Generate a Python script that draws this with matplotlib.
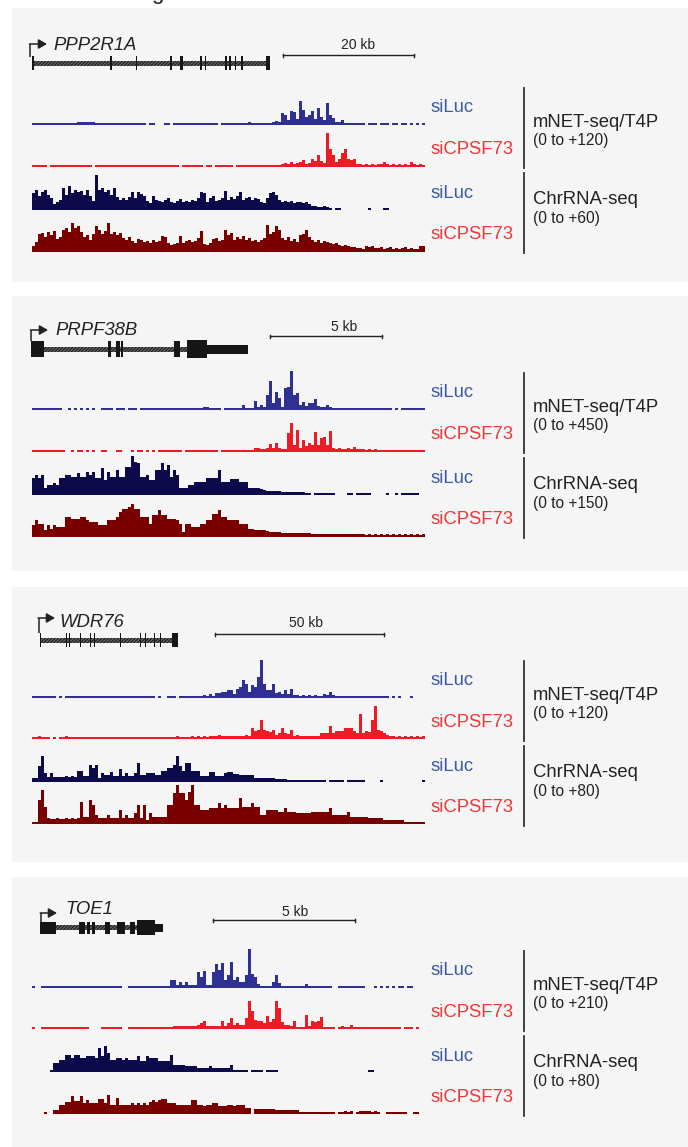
import matplotlib
matplotlib.use("Agg")
import matplotlib.pyplot as plt
from matplotlib.patches import Rectangle
import numpy as np

plt.rcParams["font.family"] = ["Liberation Sans", "DejaVu Sans"]
plt.rcParams["hatch.linewidth"] = 0.9

W, H = 688, 1147

# one character per 3-px genomic bin, value = signal height in px (base 62)
DIGITS = "0123456789abcdefghijklmnopqrstuvwxyzABCDEFGHIJKLMNOPQRSTUVWXYZ"
X0, BIN = 32, 3

GENES = ["PPP2R1A", "PRPF38B", "WDR76", "TOE1"]
SCALE_LABELS = ["20 kb", "5 kb", "50 kb", "5 kb"]
NET_RANGES = ["(0 to +120)", "(0 to +450)", "(0 to +120)", "(0 to +210)"]
CHR_RANGES = ["(0 to +60)", "(0 to +150)", "(0 to +80)", "(0 to +80)"]

P1_NET_SILUC = ("222222222222222" "333333" "22222222222222222" "0" "22" "000" "22" "0"
                "222222222222222" "0" "222222222" "3" "2222222" "343"
                "ca5ed6of8ae6h85ma73352" "222222" "0" "222" "0" "222" "0" "22" "0" "22" "0" "20202")
P1_NET_SICPSF73 = ("22222" "0" "22222222222222" "0" "2222222222" "2222222222" "22222222" "0"
                   "2222222" "0" "22" "0" "222222" "0" "2222222222" "22222" "343534"
                   "573486c64yic58ei8783" "3232323" "3" "5" "3232323" "2" "5" "3232")
P1_CHR_SILUC = ("hkeikfc68a" "mfohkijfke" "9zkmikfmda" "cadicige97" "ea98ac879b" "898a9cih8c"
                "e9acjadbei" "acdacb87ch" "ifa8989788" "7864433432" "0220000000" "0020000220"
                "00000000000")
P1_CHR_SICPSF73 = ("6aijfkhldf" "moktoqkfhc" "iqmiltikhj" "ecfb9dcab9" "cabgf9789g" "9bcabel879"
                   "debcmhjcfd" "gcebcaceri" "kqmecfbdah" "imfcac9ba9" "8976765544" "3656445345"
                   "34345343366")

P2_NET_SILUC = ("2222222222" "0020202020" "2002222022" "2022202222" "2222222222" "2222222332"
                "2220222222" "52229353ft" "7ic3mnDfh5" "8477b43353" "2222222222" "2222222222"
                "02022222222")
P2_NET_SICPSF73 = ("2222222222" "2002022020" "2002200022" "0002022020" "2022222222" "0222222222"
                   "2202222222" "2222443348" "49433jt7m4" "c697k7ef7l" "4343343533" "3232322222"
                   "22222222222")
P2_CHR_SILUC = ("hkhk7aacah" "hkkiimiink" "nhhrfniipi" "issDxwiikf" "fppwpuipk7" "77aaddddhh"
                "hhpdddgggd" "dd77776544" "4443333333" "3220222222" "2000022022" "2220000020"
                "02022222200")
P2_CHR_SICPSF73 = ("chdd7c8caa" "akkiiikkhf" "ffccchhhkp" "ssuxsskkkd" "mmrmmiiihd" "5ddaaaddhh"
                   "nnrkkhhhhd" "dd88777765" "5554444444" "4443333333" "3333333333" "3232323232"
                   "32323232323")

P3_NET_SILUC = ("2222222202" "0222222222" "2222222222" "2222222222" "2020022202" "2222222324"
                "255668849b" "ie6dblCe88" "e564849332" "3232322436" "3222222222" "2222222220"
                "20200020000")
P3_NET_SICPSF73 = ("2232220202" "2322222222" "2222222222" "2222222222" "2222222232" "2223232323"
                   "3343333333" "343b89j987" "946b659343" "333333666d" "6888bbb86p" "687jx98643"
                   "32323232323")
P3_CHR_SILUC = ("44gq959555" "56565bb66h" "eh4977a66d" "69669j7799" "977bbeehqg" "bjjbbb666a"
                "a6669aa887" "7777444444" "4333322222" "2222222202" "2222022222" "2000002000"
                "00000000002")
P3_CHR_SICPSF73 = ("22oyh65565" "565656m77o" "j96669666e" "6966bj6j4b" "77777jjvDv" "vowDjjeeeg"
                   "gglgjggggq" "hhhlhh99ee" "eeccgcccbb" "bbbccccccg" "99999c7777" "7766666444"
                   "44442222222")

P4_NET_SILUC = ("2002222222" "2222222222" "2222222222" "0022222222" "2222228836" "36333gbh33"
                "goip8dq8b6" "6dDeb42222" "6d52222222" "2422222222" "0022222222" "2000202020"
                "20220220000")
P4_NET_SICPSF73 = ("2002222222" "2222222220" "0002222222" "0022222222" "2222222333" "3333346833"
                   "333836b464" "4bsi9886d7" "asl7443822" "2e3878c222" "2023224222" "2222222222"
                   "22202220200")
P4_CHR_SILUC = ("000000299c" "chhehheegg" "geogqjccee" "cecccgbbge" "eebbbbh777" "7666644446"
                "4444447222" "2202222022" "2200000000" "0000000000" "0000000000" "0022000000"
                "00000000000")
P4_CHR_SICPSF73 = ("0000200449" "9cciddibeb" "bbffbj99g9" "999b9b9b9c" "eceffbbb99" "999ee99899"
                   "bb88899899" "9660555555" "5444444442" "2222222222" "2022323023" "3332320022"
                   "22222002200")

TRACKS = [
    [P1_NET_SILUC, P1_NET_SICPSF73, P1_CHR_SILUC, P1_CHR_SICPSF73],
    [P2_NET_SILUC, P2_NET_SICPSF73, P2_CHR_SILUC, P2_CHR_SICPSF73],
    [P3_NET_SILUC, P3_NET_SICPSF73, P3_CHR_SILUC, P3_CHR_SICPSF73],
    [P4_NET_SILUC, P4_NET_SICPSF73, P4_CHR_SILUC, P4_CHR_SICPSF73],
]

# exon models (start, width, half height) in track pixels
PPP2R1A_EXONS = [(31.5, 2, 7), (110, 1.5, 7), (135.5, 1.5, 7), (170, 2, 7), (180, 3, 7),
                 (199.5, 2, 7), (204.5, 1.5, 7), (225, 1.5, 7), (228.5, 2, 7), (234.5, 1.5, 7),
                 (241, 1.5, 7), (265.5, 4, 7)]
PRPF38B_EXONS = [(31, 13, 8), (108, 3, 8), (116, 4, 8), (121, 2, 8), (174, 6, 8),
                 (187, 20, 9), (207, 41, 4.5)]
WDR76_EXONS = [(39.5, 1.5, 7), (65.5, 1.5, 7), (68.5, 1.5, 7), (79.5, 1.5, 7), (89.5, 1.5, 7),
               (93.5, 1.5, 7), (119.5, 1.5, 7), (139.5, 1.5, 7), (144.5, 1.5, 7), (153.5, 1.5, 7),
               (159.5, 1.5, 7), (172, 6, 7)]
TOE1_EXONS = [(40, 16, 6), (79, 6, 6), (87, 3, 6), (92, 3, 6), (105, 5, 6), (117, 8, 6),
              (130, 5, 6), (137, 18, 7.5), (155, 8, 4)]
EXONS = [PPP2R1A_EXONS, PRPF38B_EXONS, WDR76_EXONS, TOE1_EXONS]

# layout
PANEL_Y = [(8, 282), (296, 571), (587, 862), (877, 1147)]
TRACK_BASE = [(125, 167, 210, 252), (410, 452, 495, 537), (698, 739, 782, 824), (988, 1029, 1072, 1114)]
GENE_Y = [63, 349, 640, 927.5]
INTRONS = [(32, 268), (44, 187), (40, 173), (56, 137)]
ARROWS = [(30, 57, 44, 47), (31, 341, 330, 48), (38.6, 633, 618, 55), (40.7, 925, 913, 57)]
NAME_POS = [(53, 50), (55, 335), (59, 627), (65, 914)]
SCALES = [(283, 414, 55, 358, 49), (270, 382, 336, 344, 331), (215, 384, 634, 306, 627),
          (213, 355, 920, 295, 916)]

TRACK_COLORS = ["#2e3192", "#ed1c24", "#0c0a4a", "#7a0000"]
SILUC_C, SICPSF_C = "#3b5ba9", "#ef3737"
INK = "#222222"
FS = 13.3

fig = plt.figure(figsize=(W / 100, H / 100), dpi=100)
ax = fig.add_axes([0, 0, 1, 1])
ax.set_xlim(0, W)
ax.set_ylim(H, 0)
ax.axis("off")

# clipped title remnant at the very top (cut off in the source figure as well)
ax.text(157, -1, "g", fontsize=16, color=INK, ha="center", va="baseline")

for p in range(4):
    y0, y1 = PANEL_Y[p]
    ax.add_patch(Rectangle((12, y0), W - 12, y1 - y0, facecolor="#f5f5f5", edgecolor="none", zorder=0))

    # gene model
    gy = GENE_Y[p]
    ix0, ix1 = INTRONS[p]
    ax.add_patch(Rectangle((ix0, gy - 2.5), ix1 - ix0, 5, facecolor="#6e6e6e", edgecolor="#1e1e1e",
                           hatch="//////////", linewidth=0, zorder=2))
    for ex0, ew, hh in EXONS[p]:
        ax.broken_barh([(ex0, ew)], (gy - hh, 2 * hh), facecolor="#161616", zorder=3)

    ax_x, ay_b, ay_t, ax_end = ARROWS[p]
    ax.plot([ax_x, ax_x], [ay_b, ay_t], color=INK, lw=1.1, solid_capstyle="butt")
    ax.annotate("", xy=(ax_end, ay_t), xytext=(ax_x - 0.5, ay_t),
                arrowprops=dict(arrowstyle="-|>,head_length=0.7,head_width=0.4",
                                color=INK, lw=1.1, mutation_scale=7.2, shrinkA=0, shrinkB=0))
    nx, ny = NAME_POS[p]
    ax.text(nx, ny, GENES[p], style="italic", fontsize=FS, color=INK, va="baseline")

    sx0, sx1, sy, tx, ty = SCALES[p]
    ax.plot([sx0, sx1], [sy, sy], color=INK, lw=1.0)
    ax.plot([sx0, sx0], [sy - 1.5, sy + 1.5], color=INK, lw=1.0)
    ax.plot([sx1, sx1], [sy - 1.5, sy + 1.5], color=INK, lw=1.0)
    ax.text(tx, ty, SCALE_LABELS[p], fontsize=10, color=INK, ha="center", va="baseline")

    # signal tracks
    for k in range(4):
        h = np.array([DIGITS.index(c) for c in TRACKS[p][k]], dtype=float)
        x = X0 + BIN * np.arange(len(h))
        ax.bar(x, -h, width=BIN, bottom=TRACK_BASE[p][k], align="edge",
               color=TRACK_COLORS[k], linewidth=0, zorder=2)

    b1 = TRACK_BASE[p][0]
    ax.text(431, b1 - 13, "siLuc", color=SILUC_C, fontsize=FS, va="baseline")
    ax.text(431, b1 + 29, "siCPSF73", color=SICPSF_C, fontsize=FS, va="baseline")
    ax.text(431, b1 + 73, "siLuc", color=SILUC_C, fontsize=FS, va="baseline")
    ax.text(431, b1 + 114, "siCPSF73", color=SICPSF_C, fontsize=FS, va="baseline")
    ax.plot([524, 524], [b1 - 37, b1 + 43], color="#333333", lw=1.3)
    ax.plot([524, 524], [b1 + 48, b1 + 128], color="#333333", lw=1.3)
    ax.text(533, b1 + 1.7, "mNET-seq/T4P", color=INK, fontsize=FS, va="baseline")
    ax.text(533, b1 + 20, NET_RANGES[p], color=INK, fontsize=11.2, va="baseline")
    ax.text(533, b1 + 79.3, "ChrRNA-seq", color=INK, fontsize=FS, va="baseline")
    ax.text(533, b1 + 97.7, CHR_RANGES[p], color=INK, fontsize=11.2, va="baseline")

fig.savefig("out.png", dpi=100)
